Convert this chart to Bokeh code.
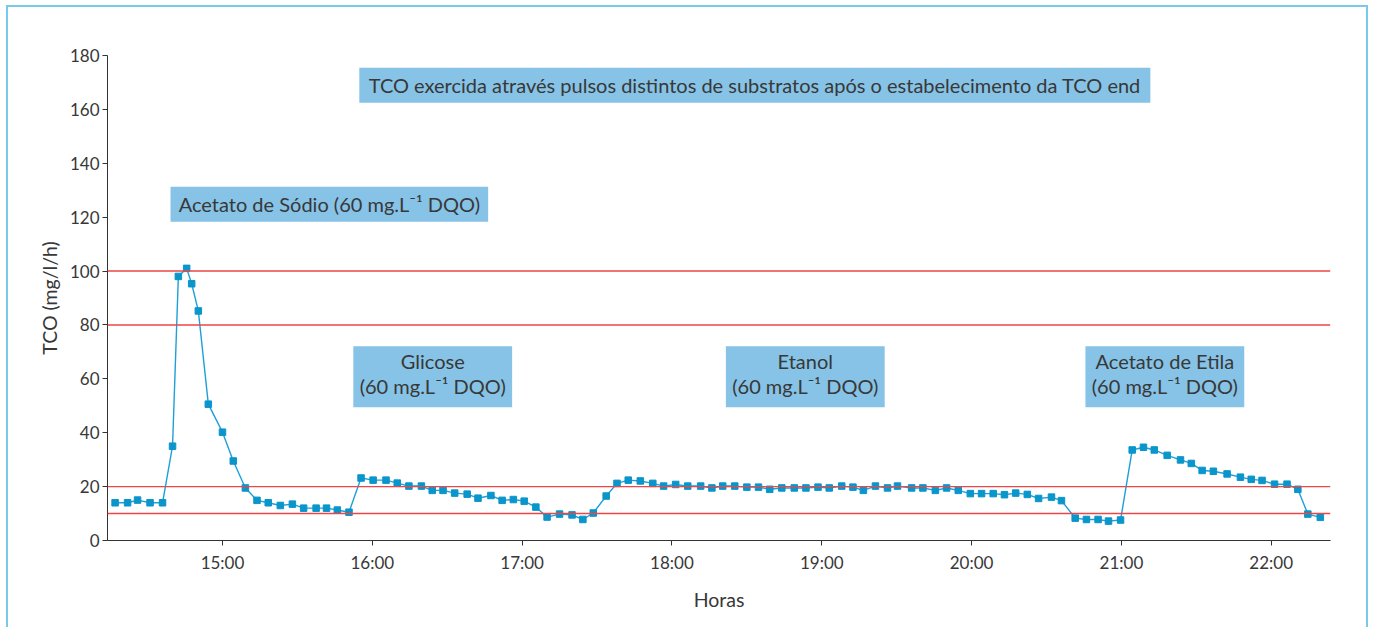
from bokeh.plotting import figure
from bokeh.models import Span, BoxAnnotation, Label, FixedTicker, Range1d
from bokeh.embed import file_html
from bokeh.resources import INLINE

# ---- data ----
times = ["14:17", "14:22", "14:26", "14:31", "14:36", "14:40", "14:42:20", "14:45:40", "14:47:40",
         "14:50:20", "14:54:20", "15:00", "15:04:20", "15:09:10", "15:13:50", "15:18:20", "15:23:10",
         "15:28", "15:32:30", "15:37:30", "15:41:40", "15:46", "15:50:40", "15:55:30", "16:00:20",
         "16:05:30", "16:10", "16:14:40", "16:19:40", "16:24", "16:28:20", "16:33", "16:38",
         "16:42:20", "16:47:30", "16:52", "16:56:30", "17:00:50", "17:05:30", "17:10", "17:15",
         "17:20", "17:24:20", "17:28:30", "17:33:40", "17:38", "17:42:30", "17:47:20", "17:52:20",
         "17:56:40", "18:01:30", "18:06:20", "18:11:30", "18:16", "18:20:20", "18:25:10", "18:30",
         "18:34:40", "18:39:10", "18:44", "18:49", "18:53:40", "18:58:30", "19:03", "19:08",
         "19:12:30", "19:16:40", "19:21:30", "19:26:20", "19:30:20", "19:36", "19:40:30", "19:45:30",
         "19:50", "19:54:40", "19:59:30", "20:04", "20:08:40", "20:13:10", "20:17:40", "20:22:20",
         "20:26:50", "20:32", "20:36", "20:41:30", "20:46", "20:50:40", "20:54:50", "20:59:40",
         "21:04:20", "21:08:50", "21:13:10", "21:18:20", "21:23:40", "21:28", "21:32:20", "21:36:50",
         "21:42:20", "21:47:40", "21:52", "21:56:20", "22:01:20", "22:06:20", "22:10:40", "22:14:40",
         "22:19:40"]
tco = [14, 14, 15, 14, 14, 35, 98, 101, 95.3, 85.2, 50.6, 40.2, 29.5, 19.5, 14.9, 14, 13, 13.5,
       12, 12, 12, 11.3, 10.5, 23.2, 22.4, 22.4, 21.3, 20.2, 20.2, 18.6, 18.6, 17.6, 17.2, 15.7,
       16.7, 14.9, 15.2, 14.6, 12.4, 8.7, 9.8, 9.5, 7.8, 10.2, 16.5, 21.2, 22.4, 22.1, 21.2, 20.2,
       20.8, 20.2, 20.2, 19.5, 20.2, 20.2, 19.8, 19.8, 19, 19.5, 19.5, 19.5, 19.8, 19.5, 20.2,
       19.8, 18.6, 20.2, 19.5, 20.2, 19.5, 19.5, 18.6, 19.5, 18.6, 17.4, 17.4, 17.4, 17, 17.6,
       17.1, 15.6, 16.1, 14.8, 8.3, 7.8, 7.8, 7.2, 7.6, 33.6, 34.6, 33.6, 31.6, 29.9, 28.6, 26,
       25.7, 24.7, 23.5, 22.7, 22.3, 20.9, 20.9, 19, 9.8, 8.6]
limits = [10, 20, 80, 100]
hour_ticks = [15, 16, 17, 18, 19, 20, 21, 22]
hour_labels = ["15:00", "16:00", "17:00", "18:00", "19:00", "20:00", "21:00", "22:00"]
y_ticks = [0, 20, 40, 60, 80, 100, 120, 140, 160, 180]

title_text = "TCO exercida através pulsos distintos de substratos após o estabelecimento da TCO end"
pulse_labels = [["Acetato de Sódio (60 mg.L\u207b\u00b9 DQO)"],
                ["Glicose", "(60 mg.L\u207b\u00b9 DQO)"],
                ["Etanol", "(60 mg.L\u207b\u00b9 DQO)"],
                ["Acetato de Etila", "(60 mg.L\u207b\u00b9 DQO)"]]


def to_hours(s):
    parts = [float(v) for v in s.split(":")]
    while len(parts) < 3:
        parts.append(0.0)
    return parts[0] + parts[1] / 60 + parts[2] / 3600


def hm(h, m):
    return h + m / 60


x = [to_hours(t) for t in times]

FONT = "Lato"
TXT = "#383838"
BLUE_LINE = "#1e9fd6"
BLUE_MARK = "#0a95cb"
RED = "#ec4646"
BOX = "#86c3e6"
FRAME = "#78caec"

p = figure(width=1358, height=620, output_backend="svg", toolbar_location=None,
           x_range=Range1d(14.2326, 22.3957), y_range=Range1d(0, 180),
           frame_width=1223, frame_height=485,
           min_border_left=99, min_border_right=36, min_border_top=48, min_border_bottom=87)
p.margin = (5, 0, 0, 6)
p.styles = {"border-top": "2px solid " + FRAME, "border-left": "2px solid " + FRAME,
            "border-right": "2px solid " + FRAME}
p.outline_line_color = None
p.xgrid.visible = False
p.ygrid.visible = False

for v in limits:
    p.add_layout(Span(location=v, dimension="width", line_color=RED, line_width=1.4))

p.line(x, tco, line_color=BLUE_LINE, line_width=1.4)
p.scatter(x, tco, marker="square", size=6.5, fill_color=BLUE_MARK, line_color=BLUE_MARK)

# axes
p.xaxis.ticker = FixedTicker(ticks=hour_ticks)
p.xaxis.major_label_overrides = {t: l for t, l in zip(hour_ticks, hour_labels)}
p.yaxis.ticker = FixedTicker(ticks=y_ticks)
for ax in (p.xaxis, p.yaxis):
    ax.minor_tick_line_color = None
    ax.axis_line_color = "#333333"
    ax.major_tick_line_color = "#333333"
    ax.major_tick_in = 0
    ax.major_tick_out = 5
    ax.major_label_text_font = FONT
    ax.major_label_text_font_size = "17px"
    ax.major_label_text_color = TXT
    ax.axis_label_text_font = FONT
    ax.axis_label_text_font_size = "19.5px"
    ax.axis_label_text_font_style = "normal"
    ax.axis_label_text_color = TXT
p.xaxis.axis_label = "Horas"
p.yaxis.axis_label = "TCO (mg/l/h)"
p.xaxis.major_label_standoff = 6
p.xaxis.axis_label_standoff = 12
p.yaxis.major_label_standoff = 3
p.yaxis.axis_label_standoff = 6

# annotation boxes
p.add_layout(BoxAnnotation(left=hm(15, 54.8), right=hm(21, 11.6), bottom=162.5, top=175.5,
                           fill_color=BOX, fill_alpha=1, line_color=None, level="annotation"))
p.add_layout(Label(x=(hm(15, 54.8) + hm(21, 11.6)) / 2, y=169.0, text=title_text,
                   text_align="center", text_baseline="middle", text_font=FONT,
                   text_font_size="20px", text_color=TXT, level="overlay"))

boxes = [(hm(14, 39.2), hm(16, 46.4), 118.3, 131.3),
         (hm(15, 52.4), hm(16, 56.0), 49.5, 72.1),
         (hm(18, 21.6), hm(19, 25.2), 49.5, 72.1),
         (hm(20, 45.6), hm(21, 49.2), 49.5, 72.1)]
line_y = [[124.8], [66.6, 57.2], [66.6, 57.2], [66.6, 57.2]]
for (l, r, b, t), lines, ys in zip(boxes, pulse_labels, line_y):
    p.add_layout(BoxAnnotation(left=l, right=r, bottom=b, top=t, fill_color=BOX, fill_alpha=1,
                               line_color=None, level="annotation"))
    for s, yc in zip(lines, ys):
        p.add_layout(Label(x=(l + r) / 2, y=yc, text=s, text_align="center",
                           text_baseline="middle", text_font=FONT, text_font_size="20px",
                           text_color=TXT, level="overlay"))

open("out.html", "w").write(file_html(p, INLINE))
